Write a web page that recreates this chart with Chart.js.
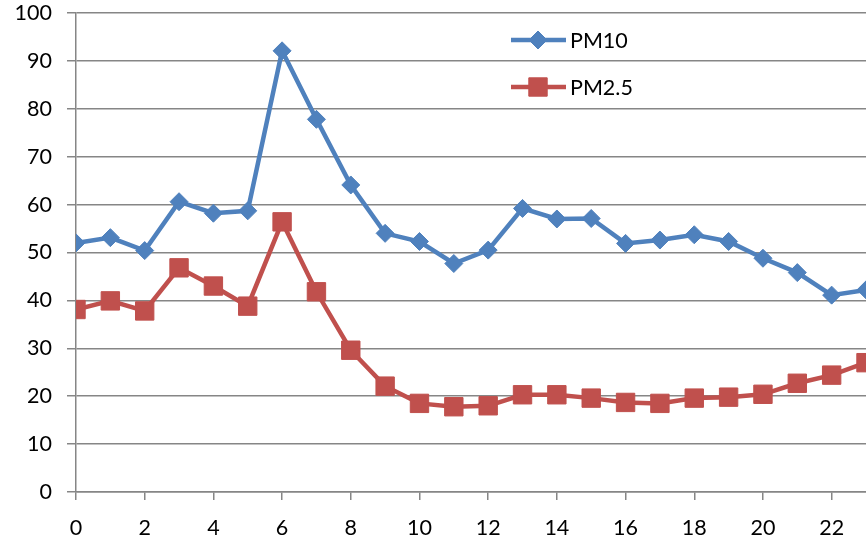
<!DOCTYPE html>
<html>
<head>
<meta charset="utf-8">
<script src="https://cdn.jsdelivr.net/npm/chart.js@4/dist/chart.umd.min.js"></script>
<style>
  body { margin: 0; background: #fff; }
  #grafico { display: block; }
</style>
</head>
<body>
<canvas id="grafico" width="866" height="540"></canvas>
<script>
// horas do dia
var horas = [0, 1, 2, 3, 4, 5, 6, 7, 8, 9, 10, 11, 12, 13, 14, 15, 16, 17, 18, 19, 20, 21, 22, 23];
var pm10 = [52.0, 53.1, 50.4, 60.6, 58.2, 58.7, 92.1, 77.8, 64.1, 54.0, 52.3, 47.7, 50.5, 59.2, 57.0, 57.1, 51.9, 52.6, 53.7, 52.3, 48.8, 45.8, 41.1, 42.2];
var pm25 = [38.1, 39.9, 37.8, 46.8, 43.0, 38.8, 56.4, 41.8, 29.6, 22.1, 18.5, 17.8, 18.0, 20.3, 20.3, 19.6, 18.7, 18.5, 19.6, 19.8, 20.4, 22.7, 24.4, 27.0];
var xTicks = [0, 2, 4, 6, 8, 10, 12, 14, 16, 18, 20, 22];
var yTicks = [0, 10, 20, 30, 40, 50, 60, 70, 80, 90, 100];

var azul = '#4F81BD';
var vermelho = '#C0504D';
var cinza = 'rgb(134,134,134)';
var fonte = 'Lato, "Open Sans", sans-serif';
var tamanho = 21.5;

function pontos(valores) {
    return valores.map(function(v, i) { return { x: horas[i], y: v }; });
}

// legenda desenhada dentro da area do grafico
var legendaPlugin = {
    id: 'legendaInterna',
    afterDraw: function(chart) {
        var ctx = chart.ctx;
        var itens = [
            { texto: 'PM10', cor: azul, estilo: 'rectRot', raio: 9, y: 40 },
            { texto: 'PM2.5', cor: vermelho, estilo: 'rect', raio: 13, y: 87 }
        ];
        ctx.save();
        itens.forEach(function(it) {
            ctx.strokeStyle = it.cor;
            ctx.lineWidth = 4.5;
            ctx.beginPath();
            ctx.moveTo(511, it.y);
            ctx.lineTo(566, it.y);
            ctx.stroke();
            ctx.fillStyle = it.cor;
            ctx.lineWidth = 1;
            Chart.helpers.drawPoint(ctx, { pointStyle: it.estilo, radius: it.raio, rotation: 0, borderWidth: 1 }, 538, it.y);
            ctx.fillStyle = '#000';
            ctx.font = tamanho + 'px ' + fonte;
            ctx.textBaseline = 'middle';
            ctx.textAlign = 'left';
            ctx.fillText(it.texto, 570, it.y + 1);
        });
        ctx.restore();
    }
};

var ctx = document.getElementById('grafico').getContext('2d');

var config = {
    type: 'line',
    data: {
        datasets: [{
            label: 'PM10',
            data: pontos(pm10),
            borderColor: azul,
            backgroundColor: azul,
            borderWidth: 4.5,
            pointStyle: 'rectRot',
            pointRadius: 9,
            pointBorderWidth: 1,
            pointBorderColor: azul,
            pointBackgroundColor: azul,
            tension: 0
        }, {
            label: 'PM2.5',
            data: pontos(pm25),
            borderColor: vermelho,
            backgroundColor: vermelho,
            borderWidth: 4.5,
            pointStyle: 'rect',
            pointRadius: 13,
            pointBorderWidth: 1,
            pointBorderColor: vermelho,
            pointBackgroundColor: vermelho,
            tension: 0
        }]
    },
    options: {
        responsive: false,
        animation: false,
        layout: { autoPadding: false, padding: { top: 13, right: 0, left: 0, bottom: 0 } },
        plugins: {
            legend: { display: false },
            tooltip: { enabled: false }
        },
        scales: {
            x: {
                type: 'linear',
                min: 0,
                max: 23,
                afterBuildTicks: function(scale) {
                    scale.ticks = xTicks.map(function(v) { return { value: v }; });
                },
                afterFit: function(scale) {
                    scale.height = 48;
                    scale.paddingLeft = 0;
                    scale.paddingRight = 0;
                },
                grid: {
                    drawOnChartArea: false,
                    drawTicks: true,
                    tickLength: 8,
                    color: cinza,
                    lineWidth: 1.5
                },
                border: { color: cinza, width: 1.5 },
                ticks: {
                    padding: 15,
                    color: '#000',
                    maxRotation: 0,
                    autoSkip: false,
                    font: { family: fonte, size: tamanho }
                }
            },
            y: {
                min: 0,
                max: 100,
                afterBuildTicks: function(scale) {
                    scale.ticks = yTicks.map(function(v) { return { value: v }; });
                },
                afterFit: function(scale) {
                    scale.width = 76;
                    scale.paddingTop = 0;
                    scale.paddingBottom = 0;
                },
                grid: {
                    color: cinza,
                    lineWidth: 1.5,
                    tickLength: 9
                },
                border: { color: cinza, width: 1.5 },
                ticks: {
                    padding: 15,
                    color: '#000',
                    font: { family: fonte, size: tamanho }
                }
            }
        }
    },
    plugins: [legendaPlugin]
};

var myChart = new Chart(ctx, config);
</script>
</body>
</html>
